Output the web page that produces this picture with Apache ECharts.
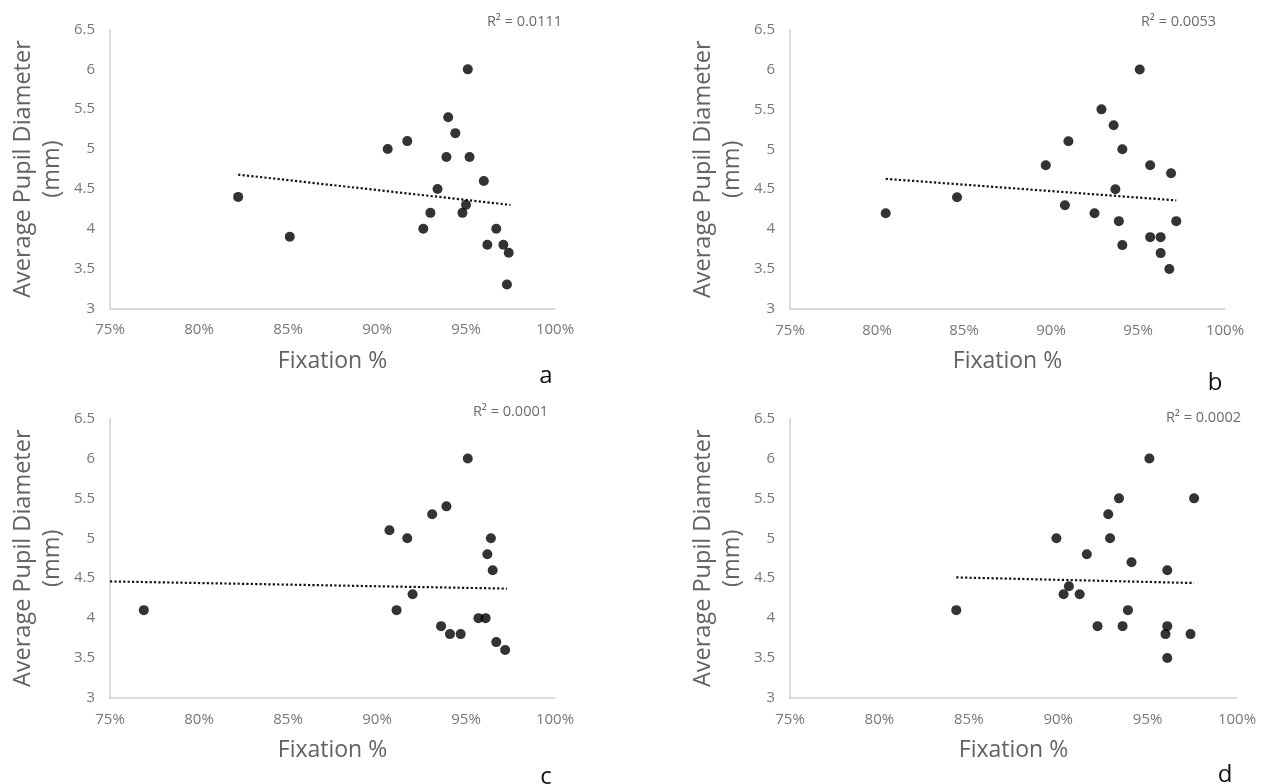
<!DOCTYPE html>
<html>
<head>
<meta charset="utf-8">
<script src="https://cdn.jsdelivr.net/npm/echarts@6/dist/echarts.min.js"></script>
<style>
  html, body { margin: 0; padding: 0; background: #fff; }
  #chart { width: 1262px; height: 784px; }
</style>
</head>
<body>
<div id="chart"></div>
<script>
// ---- Data ----
const xTicks = [75, 80, 85, 90, 95, 100];           // Fixation % tick values
const yTicks = [3, 3.5, 4, 4.5, 5, 5.5, 6, 6.5];     // Pupil diameter tick values
const xTitle = 'Fixation %';
const yTitle = 'Average Pupil Diameter\n(mm)';
const panelLetters = ['a', 'b', 'c', 'd'];
const r2Labels = ['R² = 0.0111', 'R² = 0.0053', 'R² = 0.0001', 'R² = 0.0002'];

const pointsA = [
  [82.2, 4.4], [85.1, 3.9], [90.6, 5.0], [91.7, 5.1], [92.6, 4.0], [93.0, 4.2],
  [93.4, 4.5], [93.9, 4.9], [94.0, 5.4], [94.4, 5.2], [94.8, 4.2], [95.0, 4.3],
  [95.1, 6.0], [95.2, 4.9], [96.0, 4.6], [96.2, 3.8], [96.7, 4.0], [97.1, 3.8],
  [97.4, 3.7], [97.3, 3.3]
];
const pointsB = [
  [80.5, 4.2], [84.6, 4.4], [89.7, 4.8], [90.8, 4.3], [91.0, 5.1], [92.5, 4.2],
  [92.9, 5.5], [93.6, 5.3], [93.7, 4.5], [93.9, 4.1], [94.1, 5.0], [94.1, 3.8],
  [95.1, 6.0], [95.7, 4.8], [95.7, 3.9], [96.3, 3.9], [96.3, 3.7], [96.9, 4.7],
  [96.8, 3.5], [97.2, 4.1]
];
const pointsC = [
  [76.9, 4.1], [90.7, 5.1], [91.1, 4.1], [91.7, 5.0], [92.0, 4.3], [93.1, 5.3],
  [93.6, 3.9], [93.9, 5.4], [94.1, 3.8], [94.7, 3.8], [95.1, 6.0], [95.7, 4.0],
  [96.1, 4.0], [96.2, 4.8], [96.4, 5.0], [96.5, 4.6], [96.7, 3.7], [97.2, 3.6]
];
const pointsD = [
  [84.3, 4.1], [89.9, 5.0], [90.3, 4.3], [90.6, 4.4], [91.2, 4.3], [91.6, 4.8],
  [92.2, 3.9], [92.8, 5.3], [92.9, 5.0], [93.4, 5.5], [93.6, 3.9], [93.9, 4.1],
  [94.1, 4.7], [95.1, 6.0], [96.1, 4.6], [96.1, 3.9], [96.0, 3.8], [96.1, 3.5],
  [97.4, 3.8], [97.6, 5.5]
];
// Linear trend lines (end points)
const trendA = [[82.2, 4.68], [97.5, 4.30]];
const trendB = [[80.5, 4.63], [97.2, 4.36]];
const trendC = [[75.0, 4.46], [97.3, 4.37]];
const trendD = [[84.3, 4.51], [97.6, 4.44]];

const allPoints = [pointsA, pointsB, pointsC, pointsD];
const allTrends = [trendA, trendB, trendC, trendD];

// ---- Layout ----
const W = 1262, H = 784;
const grids = [
  { left: 110, top: 29.5, width: 445, height: 279 },
  { left: 790, top: 29.5, width: 435, height: 279.5 },
  { left: 110, top: 418.5, width: 445, height: 279.5 },
  { left: 790, top: 418.5, width: 447, height: 279.5 }
];
const r2Pos = [[562, 21.5], [1216, 21.5], [548, 411.5], [1241, 418]];
const letterPos = [[546, 376], [1215, 383], [546, 777], [1225, 775]];

const FONT = '"Open Sans", "Liberation Sans", sans-serif';
const tickColor = '#777777';
const titleColor = '#626262';
const axisLineColor = '#cfcfcf';

const option = {
  backgroundColor: '#ffffff',
  animation: false,
  grid: grids.map(g => Object.assign({ containLabel: false, outerBoundsMode: 'none' }, g)),
  xAxis: grids.map((g, i) => ({
    type: 'value', gridIndex: i,
    min: xTicks[0], max: xTicks[xTicks.length - 1], interval: xTicks[1] - xTicks[0],
    name: xTitle, nameLocation: 'middle', nameGap: 41, nameMoveOverlap: false,
    nameTextStyle: { fontSize: 23, color: titleColor, fontFamily: FONT },
    axisLine: { show: true, onZero: false, lineStyle: { color: axisLineColor, width: 1.5 } },
    axisTick: { show: false },
    splitLine: { show: false },
    axisLabel: { fontSize: 15, color: tickColor, fontFamily: FONT, margin: 14,
      formatter: v => v + '%' }
  })),
  yAxis: grids.map((g, i) => ({
    type: 'value', gridIndex: i,
    min: yTicks[0], max: yTicks[yTicks.length - 1], interval: yTicks[1] - yTicks[0],
    name: yTitle, nameLocation: 'middle', nameGap: 43, nameRotate: 90, nameMoveOverlap: false,
    nameTextStyle: { fontSize: 23.5, color: titleColor, fontFamily: FONT, lineHeight: 29 },
    axisLine: { show: true, onZero: false, lineStyle: { color: axisLineColor, width: 1.5 } },
    axisTick: { show: false },
    splitLine: { show: false },
    axisLabel: { fontSize: 15, color: tickColor, fontFamily: FONT, margin: 15 }
  })),
  series: [].concat(
    allPoints.map((pts, i) => ({
      type: 'scatter', xAxisIndex: i, yAxisIndex: i, data: pts,
      symbol: 'circle', symbolSize: 10,
      itemStyle: { color: '#000000' }, z: 3
    })),
    allTrends.map((tr, i) => ({
      type: 'line', xAxisIndex: i, yAxisIndex: i, data: tr,
      symbol: 'none', z: 2,
      lineStyle: { color: '#111111', width: 2.2, type: [2.2, 2.2] }
    }))
  ),
  graphic: [].concat(
    r2Labels.map((t, i) => ({
      type: 'text', x: r2Pos[i][0], y: r2Pos[i][1],
      style: { text: t, font: '14.5px ' + FONT, fill: '#6a6a6a', align: 'right', verticalAlign: 'middle' }
    })),
    panelLetters.map((t, i) => ({
      type: 'text', x: letterPos[i][0], y: letterPos[i][1],
      style: { text: t, font: '24px ' + FONT, fill: '#111111', align: 'center', verticalAlign: 'middle' }
    }))
  )
};

const chart = echarts.init(document.getElementById('chart'), null, { renderer: 'canvas', width: W, height: H });
chart.setOption(option);
</script>
</body>
</html>
